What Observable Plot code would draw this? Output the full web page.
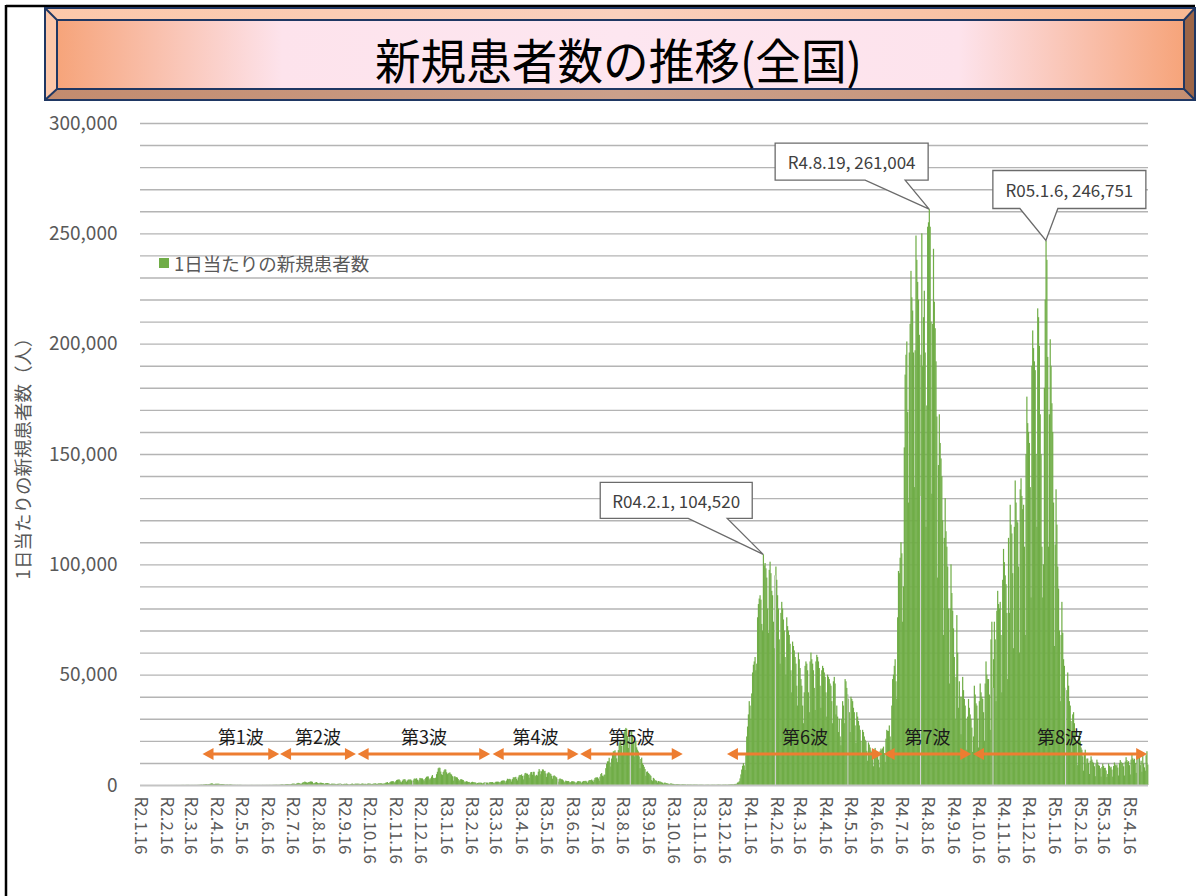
<!DOCTYPE html>
<html><head><meta charset="utf-8">
<script src="https://cdn.jsdelivr.net/npm/d3@7"></script>
<script src="https://cdn.jsdelivr.net/npm/@observablehq/plot@0.6"></script>
<style>
body{margin:0;background:#fff;}
#chart{position:relative;width:1204px;height:896px;overflow:hidden;background:#fff}
</style></head><body><div id="chart"></div>
<script>
// ---- Data: daily new cases, one sub-array per month (2020 starts on Jan 16, 2023 ends on May 8) ----
const cases2020 = [
 [1,0,0,0,0,0,0,1,1,0,0,2,1,4,3,1],
 [3,2,0,0,0,0,2,1,0,0,1,3,2,1,8,4,6,6,8,2,9,13,13,6,5,14,12,21,10],
 [15,12,14,18,33,28,58,25,24,33,54,55,58,62,25,33,39,44,38,44,48,36,38,61,71,93,112,125,175,86,214],
 [268,290,352,368,254,365,375,506,594,714,720,504,400,500,575,560,575,590,570,370,380,420,440,435,365,210,145,195,225,175],
 [165,255,245,170,125,90,100,90,70,40,85,70,60,95,70,50,30,30,20,40,30,25,30,20,25,30,30,45,40,30,30],
 [30,35,35,45,35,40,45,25,25,55,45,45,45,45,55,45,40,65,70,50,45,60,80,100,95,105,115,85,90,115],
 [125,195,250,275,210,150,210,340,360,420,370,410,260,330,460,620,600,670,510,420,630,780,980,800,790,510,600,980,1260,1300,1580],
 [1330,1170,960,1240,1360,1480,1600,1560,1440,800,710,1000,1180,1330,1020,860,610,1000,1060,990,890,890,580,550,820,840,890,780,700,450,390],
 [590,580,590,570,560,420,320,510,500,650,550,650,440,220,460,500,580,490,630,490,290,310,240,440,550,640,480,330,560,610],
 [570,600,570,600,430,480,580,670,620,490,550,530,300,560,720,650,650,560,370,440,640,610,750,730,500,490,750,700,800,770,720],
 [610,480,850,610,1040,1120,1330,940,780,1270,1540,1660,1700,1730,1440,950,1700,2200,2390,2420,2590,2170,1520,1230,1950,2500,2520,2680,2060,1430],
 [2030,2430,2510,2440,2500,2050,1350,2060,2810,2970,2780,3040,2400,1680,2380,3210,3040,2990,2990,2490,1750,2650,3270,3740,3840,3880,2950,2380,3050,3850,4520]
];
const cases2021 = [
 [3250,3050,3130,3330,4910,6000,7570,7880,7790,6090,4870,4540,5870,6600,7130,7010,5760,4930,5320,5550,5690,5040,4710,3990,1990,3850,3960,3540,3520,3330,2670],
 [1790,2330,2630,2570,2380,2270,1660,1230,1580,1720,1550,1360,1400,1170,880,1300,1470,1300,1220,1210,1070,630,890,1010,1080,1040,1070,990],
 [680,900,1170,1200,1080,1070,1070,600,1120,1300,1330,1290,1330,1080,760,1140,1460,1480,1500,1500,1390,800,1530,1900,2000,2040,2080,1780,1120,2050,2840],
 [2610,2780,2760,2470,1570,2650,3450,3450,3500,3700,2780,2090,3450,4310,4570,4530,4800,4090,2560,4330,5290,5500,5110,5120,4610,3320,4830,5790,5910,4670],
 [5960,5980,4370,4010,4610,4270,6040,7240,6480,4900,6240,7060,7000,6270,6420,5240,3680,5230,5730,5660,5240,5020,4200,2880,4050,4370,4110,3700,3430,2680,1480],
 [2640,2990,2760,2570,2510,2100,1200,1580,2000,1800,1750,1820,1540,930,1370,1690,1700,1620,1580,1310,720,1130,1660,1780,1650,1680,1460,840,1460,1790],
 [1860,1780,1900,1560,980,1700,2190,2240,2240,2470,2010,1480,2380,3200,3430,3410,3480,2960,1960,3760,4940,5400,4220,3920,4670,4690,7630,9580,10700,10750,12340],
 [10170,8370,12000,14200,15260,15250,15750,14470,12080,10350,15810,18890,20360,20140,17690,14090,19940,23910,25150,25870,25490,22230,16800,21550,24280,24970,24250,22710,19250,12970,19750],
 [20050,17070,16010,15250,12980,7620,11780,12420,9840,9110,8240,7220,4180,6000,6150,5460,5090,4620,4140,2230,1760,3240,2870,2130,2090,1870,1130,1800,1600,1590],
 [1440,1230,1040,600,1000,1130,890,820,700,600,370,600,740,620,510,500,430,230,380,390,370,330,310,270,150,270,300,280,250,280,200],
 [90,220,170,170,220,190,160,110,160,200,180,170,170,130,80,130,140,150,140,120,90,50,80,120,110,120,130,90,80,90],
 [130,130,110,130,130,70,120,140,170,160,160,110,70,130,150,150,180,180,130,110,170,210,270,300,320,260,210,390,500,500,600]
];
const cases2022 = [
 [1100,1200,1700,3000,4800,7000,8700,9900,8900,6800,13500,22000,26500,32000,38000,36000,30000,41500,51000,54500,56000,58000,52000,55000,76000,82000,84500,86000,84000,73000,70000],
 [104520,99500,100600,98200,94000,80000,69000,97500,101200,96000,88000,86000,74000,62000,95000,99000,93000,86000,80000,66000,55000,78000,83000,80000,75000,70000,58000,50000],
 [76000,72000,70000,68000,64000,52000,42000,65000,63000,61000,58000,55000,45000,36000,60000,57000,53000,48000,45000,36000,28000,42000,54000,56000,55000,52000,42000,33000,56000,60000,57000],
 [55000,52000,44000,34000,56000,59000,58000,56000,53000,45000,35000,52000,54000,53000,51000,49000,42000,31000,50000,49000,48000,46000,45000,38000,28000,47000,49000,46000,32000,36000],
 [31000,24000,30000,22000,18000,30000,38000,36000,28000,48000,47000,44000,41000,39000,33000,24000,40000,39000,38000,35000,33000,27000,19000,33000,31000,29000,27000,25000,20000,14000,25000],
 [24000,22000,20500,19800,15500,11000,19300,18300,17000,15600,15000,12000,8500,16000,16800,15500,14000,13800,11500,8000,15500,16500,15800,16600,17400,14500,10500,21000,25000,24500],
 [24500,27000,22000,16000,36000,48000,50000,54000,57000,47000,39000,76000,97000,96000,103000,110000,105000,74000,90000,153000,186000,195000,201000,169000,128000,196000,209000,233000,221000,215000,196000],
 [135000,197000,249000,238000,228000,220000,204000,131000,195000,250000,190000,212000,224000,196000,117000,172000,253000,255000,261004,253000,210000,132000,209000,243000,219000,207000,192000,167000,94000,145000,168000],
 [155000,148000,140000,120000,68000,112000,130000,115000,108000,99000,80000,46000,80000,100000,87000,79000,71000,58000,30000,49000,77000,60000,35000,47000,40000,23000,40000,49000,43000,39000],
 [36000,30000,16000,31000,39000,35000,32000,30000,26000,15000,22000,45000,41000,37000,36000,30000,17000,38000,46000,42000,40000,39000,33000,20000,46000,56000,50000,48000,48000,41000,25000],
 [66000,74000,44000,57000,74000,66000,38000,79000,88000,82000,80000,83000,68000,42000,93000,107000,101000,95000,91000,78000,48000,112000,78000,127000,118000,114000,96000,62000,117000,138000],
 [128000,120000,119000,99000,60000,134000,139000,131000,125000,127000,108000,68000,150000,176000,164000,160000,155000,135000,85000,190000,206000,198000,192000,188000,150000,117000,216000,212000,199000,168000,150000]
];
const cases2023 = [
 [108000,85000,100000,180000,220000,246751,238000,194000,108000,168000,202000,190000,173000,160000,128000,63000,109000,134000,118000,99000,89000,70000,38000,68000,83000,69000,57000,54000,44000,23000,43000],
 [51000,45000,38000,36000,29000,15000,32000,33000,28000,24000,20000,19000,9000,22000,24000,20000,17000,16000,13000,6500,14000,16000,9500,12000,12000,10000,5000,11000],
 [13000,11500,10500,10000,8500,4000,9700,11500,10300,9000,8700,7600,3800,8200,9700,8600,7700,7800,6600,3600,5000,9700,8700,7900,8300,7000,3800,8600,10200,9300,8700],
 [9300,7900,4300,9900,11300,10500,9700,10000,8500,4300,10600,12600,11300,10400,10800,9000,4800,11500,13600,12100,11400,11900,10000,5500,13200,14600,13000,12500,9000,11000],
 [6000,14000,9700,8000,6500,13500,15300,9300]
];
const years = [[2020, cases2020], [2021, cases2021], [2022, cases2022], [2023, cases2023]];

// x tick labels (Reiwa era dates)
const tickLabels = [
 "R2.1.16","R2.2.16","R2.3.16","R2.4.16","R2.5.16","R2.6.16","R2.7.16","R2.8.16","R2.9.16","R2.10.16","R2.11.16","R2.12.16",
 "R3.1.16","R3.2.16","R3.3.16","R3.4.16","R3.5.16","R3.6.16","R3.7.16","R3.8.16","R3.9.16","R3.10.16","R3.11.16","R3.12.16",
 "R4.1.16","R4.2.16","R4.3.16","R4.4.16","R4.5.16","R4.6.16","R4.7.16","R4.8.16","R4.9.16","R4.10.16","R4.11.16","R4.12.16",
 "R5.1.16","R5.2.16","R5.3.16","R5.4.16"
];
const yTicks = [0, 50000, 100000, 150000, 200000, 250000, 300000];

// waves (start / end dates of the arrows)
const waveLabels = ["第1波","第2波","第3波","第4波","第5波","第6波","第7波","第8波"];
const waveStarts = ["2020-03-31","2020-07-02","2020-10-03","2021-03-14","2021-06-27","2021-12-20","2022-06-26","2022-10-11"];
const waveEnds   = ["2020-06-30","2020-09-30","2021-03-10","2021-06-24","2021-10-27","2022-06-24","2022-10-08","2023-05-07"];

// peak annotations
const peakDates  = ["2022-02-01","2022-08-19","2023-01-06"];
const peakLabels = ["R04.2.1, 104,520","R4.8.19, 261,004","R05.1.6, 246,751"];

const titleText = "新規患者数の推移(全国)";
const legendText = "1日当たりの新規患者数";
const yTitle = "1日当たりの新規患者数（人）";

// ---- Build table ----
const DAY = 864e5;
const rows = [];
for (const [y, months] of years) {
  months.forEach((vals, m) => {
    const d0 = (y === 2020 && m === 0) ? 16 : 1;
    vals.forEach((v, i) => rows.push({date: new Date(Date.UTC(y, m, d0 + i)), value: v}));
  });
}
const parseR = s => { const [y, m, d] = s.slice(1).split(".").map(Number); return new Date(Date.UTC(2018 + y, m - 1, d)); };
const ticks = tickLabels.map(l => ({label: l, date: new Date(+parseR(l) + DAY / 2)}));
const byDate = new Map(rows.map(r => [+r.date, r.value]));
const peaks = peakDates.map((d, i) => ({date: new Date(d + "T00:00:00Z"), label: peakLabels[i]}));
peaks.forEach(p => p.value = byDate.get(+p.date));
const waves = waveLabels.map((l, i) => ({label: l, start: new Date(waveStarts[i] + "T00:00:00Z"), end: new Date(waveEnds[i] + "T00:00:00Z")}));
// light category tick lines every 87 days (as in the source)
const tickLines = rows.filter((d, i) => i >= 65 && (i - 65) % 87 === 0);

const FONT = "'Noto Sans CJK JP','Noto Sans',sans-serif";
const GREEN = "#70ad47", ORANGE = "#ed7d31", GRAY = "#595959";

const chart = Plot.plot({
  width: 1204, height: 896,
  marginLeft: 140, marginRight: 56, marginTop: 123, marginBottom: 111,
  style: {fontFamily: FONT, background: "white", overflow: "visible"},
  x: {type: "utc", domain: [rows[0].date, new Date(+rows[rows.length - 1].date + DAY)], axis: null},
  y: {domain: [0, 300000], axis: null},
  marks: [
    Plot.ruleY(d3.range(10000, 300001, 10000), {stroke: "#b4b4b4", strokeWidth: 1.4}),
    Plot.rectY(rows, {x1: "date", x2: d => new Date(+d.date + DAY * 1.45), y: "value", fill: GREEN}),
    Plot.ruleX(tickLines, {x: d => new Date(+d.date + DAY / 2), y1: 0, y2: "value", stroke: "#d4d4d4", strokeWidth: 1}),
    Plot.ruleY([0], {stroke: "#c4c4c4", strokeWidth: 2}),
    Plot.axisY(yTicks, {anchor: "left", tickSize: 0, tickPadding: 23, tickFormat: d3.format(","), fontSize: 19, label: null, fill: GRAY}),
    Plot.text(ticks, {x: "date", y: 0, text: "label", rotate: 90, textAnchor: "start", lineAnchor: "middle", dy: 11, fontSize: 17, fill: GRAY})
  ]
});
document.getElementById("chart").appendChild(chart);

const xsc = chart.scale("x"), ysc = chart.scale("y");
const xs = v => xsc.apply(v), ys = v => ysc.apply(v);
const svg = d3.select(chart);

// ---- Frame lines ----
svg.append("line").attr("x1", 6).attr("x2", 1195).attr("y1", 6).attr("y2", 6).attr("stroke", "#000").attr("stroke-width", 2.5);
svg.append("line").attr("x1", 6).attr("x2", 6).attr("y1", 5).attr("y2", 896).attr("stroke", "#000").attr("stroke-width", 2.5);

// ---- Title bevel box ----
const defs = svg.append("defs");
const g1 = defs.append("linearGradient").attr("id", "face").attr("x1", 0).attr("x2", 1).attr("y1", 0).attr("y2", 0);
[[0, "#f6a47a"], [0.2, "#fde3ec"], [0.5, "#fde6f0"], [0.8, "#fde3ec"], [1, "#f6a47a"]].forEach(([o, c]) => g1.append("stop").attr("offset", o).attr("stop-color", c));
const g2 = defs.append("linearGradient").attr("id", "bottomStrip").attr("x1", 0).attr("x2", 1).attr("y1", 0).attr("y2", 0);
[[0, "#c38b6e"], [0.5, "#cba08b"], [1, "#c58f72"]].forEach(([o, c]) => g2.append("stop").attr("offset", o).attr("stop-color", c));
const g3 = defs.append("linearGradient").attr("id", "topStrip").attr("x1", 0).attr("x2", 1).attr("y1", 0).attr("y2", 0);
[[0, "#fcc8aa"], [0.5, "#fad0bd"], [1, "#f8b993"]].forEach(([o, c]) => g3.append("stop").attr("offset", o).attr("stop-color", c));
const OX0 = 45, OX1 = 1195, OY0 = 8, OY1 = 100, IX0 = 57, IX1 = 1184, IY0 = 20, IY1 = 89;
const tb = svg.append("g");
tb.append("polygon").attr("points", `${OX0},${OY0} ${OX1},${OY0} ${IX1},${IY0} ${IX0},${IY0}`).attr("fill", "url(#topStrip)");
tb.append("polygon").attr("points", `${OX0},${OY0} ${IX0},${IY0} ${IX0},${IY1} ${OX0},${OY1}`).attr("fill", "#fcc7a9");
tb.append("polygon").attr("points", `${OX0},${OY1} ${IX0},${IY1} ${IX1},${IY1} ${OX1},${OY1}`).attr("fill", "url(#bottomStrip)");
tb.append("polygon").attr("points", `${OX1},${OY0} ${IX1},${IY0} ${IX1},${IY1} ${OX1},${OY1}`).attr("fill", "#9c6547");
tb.append("rect").attr("x", IX0).attr("y", IY0).attr("width", IX1 - IX0).attr("height", IY1 - IY0).attr("fill", "url(#face)");
const navy = "#1f3763";
tb.append("rect").attr("x", OX0).attr("y", OY0).attr("width", OX1 - OX0).attr("height", OY1 - OY0).attr("fill", "none").attr("stroke", navy).attr("stroke-width", 2);
tb.append("rect").attr("x", IX0).attr("y", IY0).attr("width", IX1 - IX0).attr("height", IY1 - IY0).attr("fill", "none").attr("stroke", navy).attr("stroke-width", 2);
[[OX0, OY0, IX0, IY0], [OX1, OY0, IX1, IY0], [OX0, OY1, IX0, IY1], [OX1, OY1, IX1, IY1]].forEach(([a, b, c, d]) =>
  tb.append("line").attr("x1", a).attr("y1", b).attr("x2", c).attr("y2", d).attr("stroke", navy).attr("stroke-width", 2));
tb.append("text").attr("x", 375).attr("y", 58).attr("text-anchor", "start").attr("dominant-baseline", "central")
  .attr("textLength", 487).attr("lengthAdjust", "spacingAndGlyphs")
  .attr("font-family", FONT).attr("font-size", 48).attr("font-weight", 400).attr("fill", "#000").text(titleText);

// ---- Y axis title ----
svg.append("text").attr("transform", `translate(22,${(123 + 785) / 2}) rotate(-90)`).attr("text-anchor", "middle").attr("dominant-baseline", "central")
  .attr("font-family", FONT).attr("font-size", 18.5).attr("fill", GRAY).text(yTitle);

// ---- Legend ----
svg.append("rect").attr("x", 159).attr("y", 258).attr("width", 10).attr("height", 10).attr("fill", GREEN);
svg.append("text").attr("x", 174).attr("y", 263).attr("text-anchor", "start").attr("dominant-baseline", "central").attr("font-family", FONT).attr("font-size", 18.5).attr("fill", GRAY).text(legendText);

// ---- Wave arrows ----
const arrowY = ys(14000);
const wg = svg.append("g");
for (const w of waves) {
  const a = xs(w.start), b = xs(new Date(+w.end + DAY));
  const L = 11, H = 6;
  wg.append("line").attr("x1", a + L - 1).attr("x2", b - L + 1).attr("y1", arrowY).attr("y2", arrowY).attr("stroke", ORANGE).attr("stroke-width", 3);
  wg.append("polygon").attr("points", `${a},${arrowY} ${a + L},${arrowY - H} ${a + L},${arrowY + H}`).attr("fill", ORANGE);
  wg.append("polygon").attr("points", `${b},${arrowY} ${b - L},${arrowY - H} ${b - L},${arrowY + H}`).attr("fill", ORANGE);
  wg.append("text").attr("x", (a + b) / 2).attr("y", arrowY - 18).attr("text-anchor", "middle").attr("dominant-baseline", "central")
    .attr("font-family", FONT).attr("font-size", 18).attr("fill", "#1a1a1a").text(w.label);
}

// ---- Peak callouts ----
const calloutLayout = [
  {dx: -163, w: 152, dy: -72, h: 36, b1: 88, b2: 127},
  {dx: -154, w: 153, dy: -66, h: 37, b1: 90, b2: 130},
  {dx: -53, w: 153, dy: -70, h: 38, b1: 27, b2: 65}
];
const cg = svg.append("g");
peaks.forEach((p, i) => {
  const lay = calloutLayout[i];
  const tx = xs(new Date(+p.date + DAY / 2)), ty = ys(p.value);
  const Lx = tx + lay.dx, R = Lx + lay.w, T = ty + lay.dy, B = T + lay.h;
  cg.append("path").attr("d", `M${Lx},${T}H${R}V${B}H${Lx + lay.b2}L${tx},${ty}L${Lx + lay.b1},${B}H${Lx}Z`)
    .attr("fill", "#fff").attr("stroke", "#6b6b6b").attr("stroke-width", 1.3);
  cg.append("text").attr("x", (Lx + R) / 2).attr("y", (T + B) / 2).attr("text-anchor", "middle").attr("dominant-baseline", "central")
    .attr("font-family", FONT).attr("font-size", 17).attr("fill", "#404040").text(p.label);
});
</script></body></html>
